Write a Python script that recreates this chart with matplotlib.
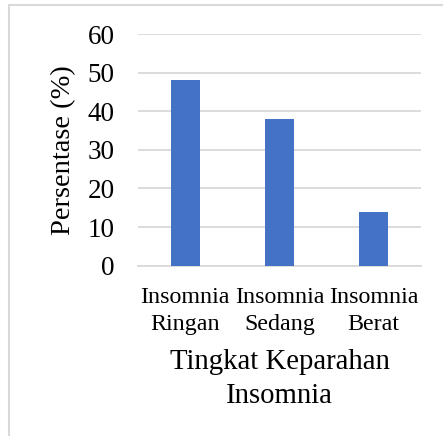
import matplotlib
matplotlib.use("Agg")
import matplotlib.pyplot as plt
from matplotlib.patches import Rectangle

categories = ["Insomnia\nRingan", "Insomnia\nSedang", "Insomnia\nBerat"]
persentase = [48, 38, 14]
y_ticks = [0, 10, 20, 30, 40, 50, 60]

plt.rcParams["font.family"] = ["Liberation Serif", "DejaVu Serif"]

W, H = 443, 436
fig = plt.figure(figsize=(W / 100, H / 100), dpi=100)
ax = fig.add_axes([138.3 / W, 1 - 265.7 / H, (420.7 - 138.3) / W, (265.7 - 34) / H])

ax.bar(range(len(categories)), persentase, width=0.31, color="#4472C4", zorder=3)

ax.set_xlim(-0.5, len(categories) - 0.5)
ax.set_ylim(0, 60)
ax.set_yticks(y_ticks)
ax.set_xticks(range(len(categories)))
ax.set_xticklabels(categories, fontsize=17.3, linespacing=1.4)
ax.tick_params(axis="y", length=0, pad=17, labelsize=19.5)
ax.tick_params(axis="x", length=0, pad=15)

ax.grid(axis="y", color="#D9D9D9", linewidth=1.3, zorder=0)
for s in ["top", "right", "left"]:
    ax.spines[s].set_visible(False)
ax.spines["bottom"].set_color("#D9D9D9")
ax.spines["bottom"].set_linewidth(1.3)

ax.set_ylabel("Persentase (%)", fontsize=20.5, labelpad=8)
ax.set_xlabel("Tingkat Keparahan\nInsomnia", fontsize=20.7, labelpad=10, linespacing=1.4)

# chart-area frame
fig.patches.append(Rectangle((8.5 / W, -0.1), 1.2, 1 - 5.5 / H + 0.1,
                             transform=fig.transFigure, fill=False,
                             edgecolor="#D9D9D9", linewidth=1.5))

fig.savefig("out.png", dpi=100)
